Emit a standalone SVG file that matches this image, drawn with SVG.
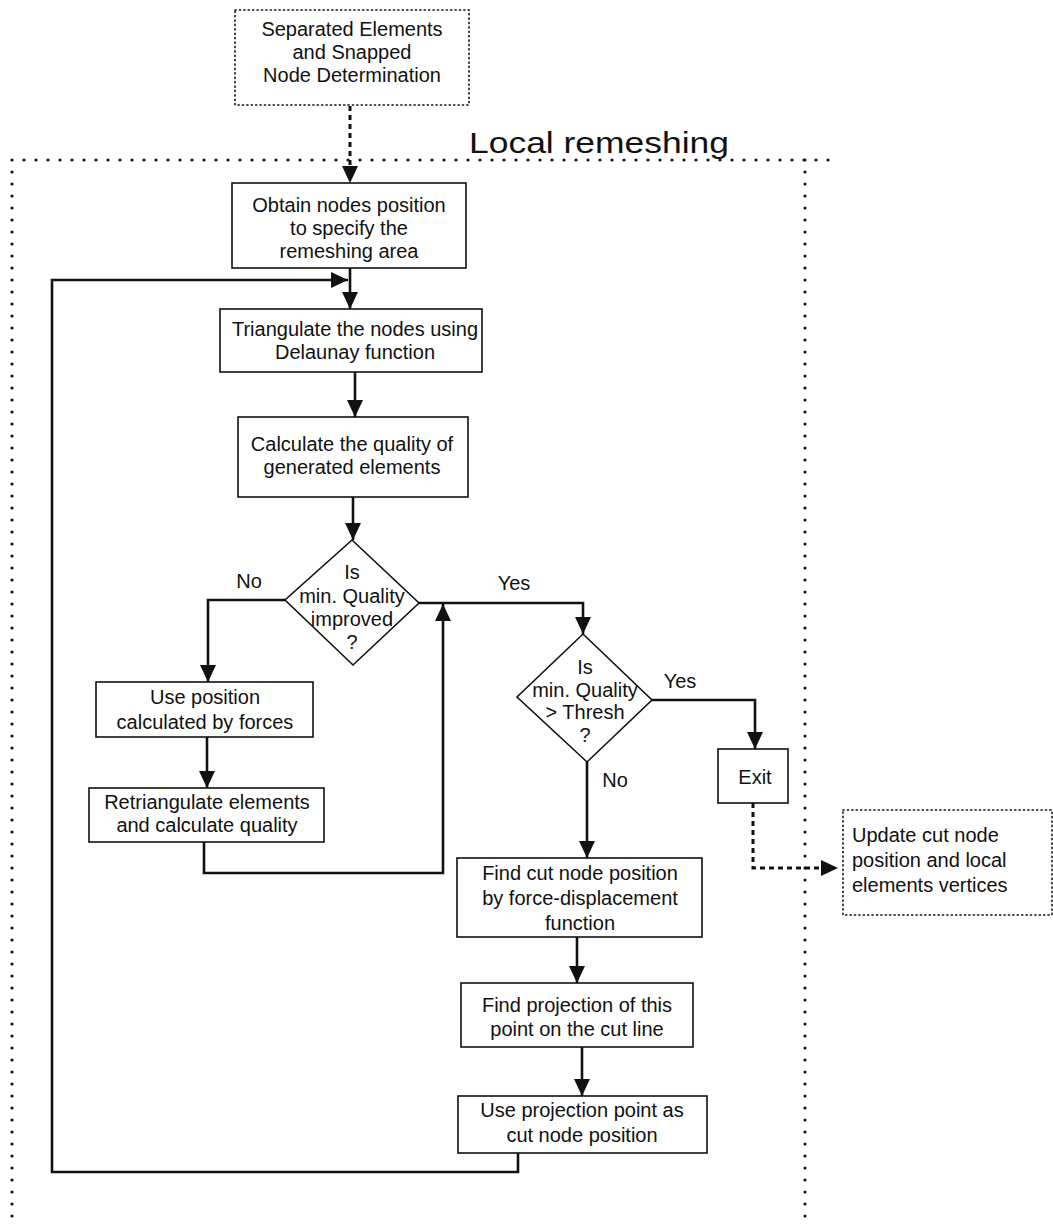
<svg xmlns="http://www.w3.org/2000/svg" width="1053" height="1226" viewBox="0 0 1053 1226">
<defs>
<marker id="ah" markerUnits="userSpaceOnUse" markerWidth="18" markerHeight="16" viewBox="0 0 18 16" refX="17" refY="8" orient="auto">
<path d="M0,0 L17,8 L0,16 z" fill="#111"/>
</marker>
<style>
text{font-family:"Liberation Sans",Arial,sans-serif;font-size:20px;fill:#111;text-anchor:middle}
.box{fill:#fff;stroke:#111;stroke-width:1.6}
.dbox{fill:#fff;stroke:#111;stroke-width:1.6;stroke-dasharray:1.2 3.2;stroke-linecap:round}
.frame{fill:none;stroke:#111;stroke-width:3.2;stroke-dasharray:0 12;stroke-linecap:round}
.link{fill:none;stroke:#111;stroke-width:2.6}
.dlink{fill:none;stroke:#111;stroke-width:3;stroke-dasharray:5 4}
.lt{text-anchor:start}
</style>
</defs>
<rect width="1053" height="1226" fill="#fff"/>

<g id="frame">
<path class="frame" d="M12,160 H830 M12,160 V1226 M805,160 V1222"/>
<text x="469" y="153" class="lt" style="font-size:30px" textLength="260" lengthAdjust="spacingAndGlyphs">Local remeshing</text>
</g>

<g id="connectors">
<path class="dlink" d="M350,106 V166"/>
<path d="M342,166 L358,166 L350,183 z" fill="#111"/>
<path class="link" d="M350,268 V309" marker-end="url(#ah)"/>
<path class="link" d="M518,1153 V1172 H52 V280 H348" marker-end="url(#ah)"/>
<path class="link" d="M355,372 V417" marker-end="url(#ah)"/>
<path class="link" d="M353,497 V540" marker-end="url(#ah)"/>
<path class="link" d="M285,600 H208 V682" marker-end="url(#ah)"/>
<path class="link" d="M207,737 V788" marker-end="url(#ah)"/>
<path class="link" d="M204,842 V873 H443 V604" marker-end="url(#ah)"/>
<path class="link" d="M419,603 H583 V634" marker-end="url(#ah)"/>
<path class="link" d="M652,700 H755 V749" marker-end="url(#ah)"/>
<path class="link" d="M587,762 V858" marker-end="url(#ah)"/>
<path class="link" d="M577,937 V983" marker-end="url(#ah)"/>
<path class="link" d="M582,1047 V1096" marker-end="url(#ah)"/>
<path class="dlink" d="M753,803 V868 H822"/>
<path d="M821,860 L838,868 L821,876 z" fill="#111"/>
<text x="249" y="588">No</text>
<text x="514" y="590">Yes</text>
<text x="680" y="688">Yes</text>
<text x="615" y="787">No</text>
</g>

<g id="n-separated">
<rect class="dbox" x="235" y="10" width="234" height="95"/>
<text x="352" y="36">Separated Elements</text>
<text x="352" y="59">and Snapped</text>
<text x="352" y="82">Node Determination</text>
</g>

<g id="n-obtain">
<rect class="box" x="232" y="183" width="234" height="85"/>
<text x="349" y="212">Obtain nodes position</text>
<text x="349" y="235">to specify the</text>
<text x="349" y="258">remeshing area</text>
</g>

<g id="n-triangulate">
<rect class="box" x="220" y="309" width="262" height="63"/>
<text x="355" y="336">Triangulate the nodes using</text>
<text x="355" y="359">Delaunay function</text>
</g>

<g id="n-calc">
<rect class="box" x="238" y="417" width="230" height="80"/>
<text x="352" y="451">Calculate the quality of</text>
<text x="352" y="474">generated elements</text>
</g>

<g id="n-improved">
<path class="box" d="M352,540 L419,603 L353,665 L285,600 z"/>
<text x="352" y="579">Is</text>
<text x="352" y="603">min. Quality</text>
<text x="352" y="626">improved</text>
<text x="352" y="649">?</text>
</g>

<g id="n-usepos">
<rect class="box" x="96" y="682" width="217" height="55"/>
<text x="205" y="704">Use position</text>
<text x="205" y="729">calculated by forces</text>
</g>

<g id="n-retri">
<rect class="box" x="89" y="788" width="235" height="54"/>
<text x="207" y="809">Retriangulate elements</text>
<text x="207" y="832">and calculate quality</text>
</g>

<g id="n-thresh">
<path class="box" d="M583,634 L652,700 L587,762 L517,697 z"/>
<text x="585" y="674">Is</text>
<text x="585" y="697">min. Quality</text>
<text x="585" y="719">&gt; Thresh</text>
<text x="585" y="742">?</text>
</g>

<g id="n-exit">
<rect class="box" x="718" y="749" width="70" height="54"/>
<text x="755" y="784">Exit</text>
</g>

<g id="n-update">
<rect class="dbox" x="843" y="810" width="209" height="105"/>
<text x="852" y="842" class="lt">Update cut node</text>
<text x="852" y="867" class="lt">position and local</text>
<text x="852" y="892" class="lt">elements vertices</text>
</g>

<g id="n-findcut">
<rect class="box" x="457" y="858" width="245" height="79"/>
<text x="580" y="880">Find cut node position</text>
<text x="580" y="905">by force-displacement</text>
<text x="580" y="930">function</text>
</g>

<g id="n-proj">
<rect class="box" x="461" y="983" width="232" height="64"/>
<text x="577" y="1012">Find projection of this</text>
<text x="577" y="1036">point on the cut line</text>
</g>

<g id="n-useproj">
<rect class="box" x="458" y="1096" width="249" height="57"/>
<text x="582" y="1117">Use projection point as</text>
<text x="582" y="1142">cut node position</text>
</g>
</svg>
